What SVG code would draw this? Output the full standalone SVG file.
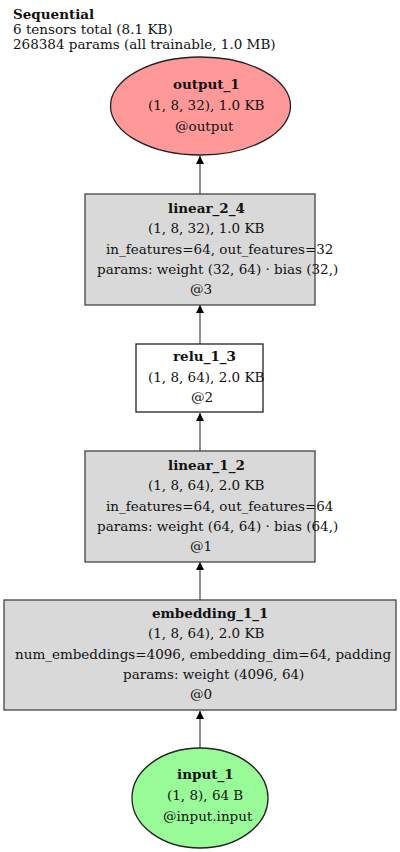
<svg xmlns="http://www.w3.org/2000/svg" width="400" height="852" viewBox="0 0 400 852">
<style>
text{font-family:"DejaVu Serif","Liberation Serif",serif;font-size:13.5px;fill:#111}
.b{font-weight:bold}
.box{fill:#d9d9d9;stroke:#444;stroke-width:1.3}
.wbox{fill:#fff;stroke:#222;stroke-width:1.3}
.edge{stroke:#444;stroke-width:1.2;fill:none}
</style>
<defs>
<marker id="ah" viewBox="0 0 10 10" refX="10" refY="5" markerWidth="8" markerHeight="8" markerUnits="userSpaceOnUse" orient="auto">
<path d="M0,0 L10,5 L0,10 z" fill="#000"/>
</marker>
</defs>
<g id="header">
<text x="13" y="19" class="b">Sequential</text>
<text x="13" y="34">6 tensors total (8.1 KB)</text>
<text x="13" y="49">268384 params (all trainable, 1.0 MB)</text>
</g>
<g id="connectors">
<line class="edge" x1="200" y1="748" x2="200" y2="711" marker-end="url(#ah)"/>
<line class="edge" x1="200" y1="600" x2="200" y2="562" marker-end="url(#ah)"/>
<line class="edge" x1="200" y1="451" x2="200" y2="413" marker-end="url(#ah)"/>
<line class="edge" x1="200" y1="344" x2="200" y2="305" marker-end="url(#ah)"/>
<line class="edge" x1="200" y1="194" x2="200" y2="156" marker-end="url(#ah)"/>
</g>
<g id="output_1">
<ellipse cx="200.5" cy="106" rx="90" ry="49" fill="#ff9999" stroke="#222" stroke-width="1.3"/>
<text x="173" y="89" class="b">output_1</text>
<text x="148" y="110">(1, 8, 32), 1.0 KB</text>
<text x="175" y="131">@output</text>
</g>
<g id="linear_2_4">
<rect class="box" x="85" y="194" width="230" height="111"/>
<text x="168" y="213" class="b">linear_2_4</text>
<text x="148" y="233">(1, 8, 32), 1.0 KB</text>
<text x="106" y="254">in_features=64, out_features=32</text>
<text x="97" y="274">params: weight (32, 64) · bias (32,)</text>
<text x="190" y="294">@3</text>
</g>
<g id="relu_1_3">
<rect class="wbox" x="136" y="344" width="127" height="68"/>
<text x="173" y="361" class="b">relu_1_3</text>
<text x="148" y="382">(1, 8, 64), 2.0 KB</text>
<text x="191" y="402">@2</text>
</g>
<g id="linear_1_2">
<rect class="box" x="85" y="451" width="230" height="111"/>
<text x="168" y="470" class="b">linear_1_2</text>
<text x="148" y="490">(1, 8, 64), 2.0 KB</text>
<text x="106" y="511">in_features=64, out_features=64</text>
<text x="97" y="531">params: weight (64, 64) · bias (64,)</text>
<text x="190" y="551">@1</text>
</g>
<g id="embedding_1_1">
<rect class="box" x="4" y="600" width="392" height="110"/>
<text x="152" y="618" class="b">embedding_1_1</text>
<text x="148" y="638">(1, 8, 64), 2.0 KB</text>
<text x="15" y="659">num_embeddings=4096, embedding_dim=64, padding</text>
<text x="123" y="679">params: weight (4096, 64)</text>
<text x="190" y="699">@0</text>
</g>
<g id="input_1">
<ellipse cx="200" cy="798" rx="68" ry="50" fill="#98fb98" stroke="#222" stroke-width="1.3"/>
<text x="177" y="779" class="b">input_1</text>
<text x="167" y="800">(1, 8), 64 B</text>
<text x="163" y="821">@input.input</text>
</g>
</svg>
